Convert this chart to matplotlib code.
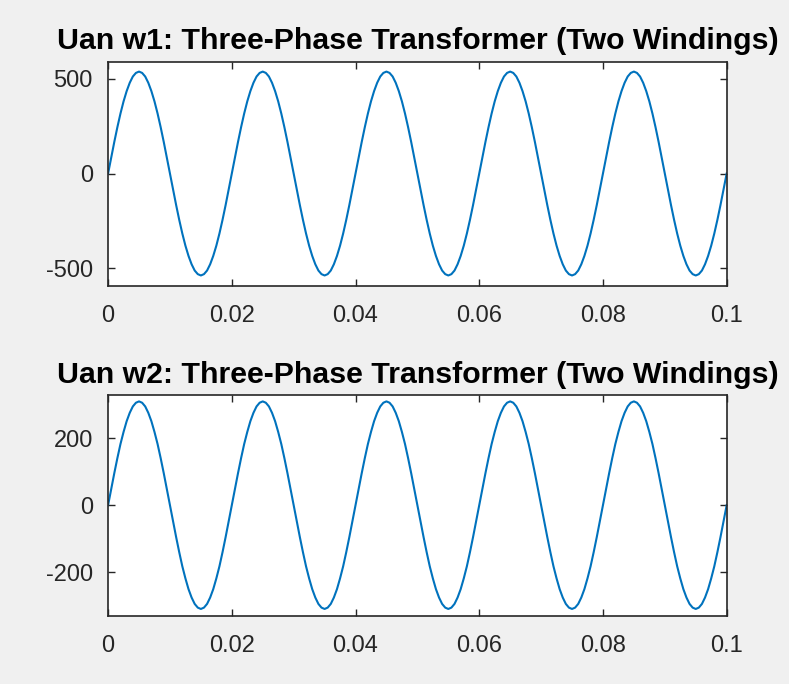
import matplotlib.pyplot as plt
from matplotlib.ticker import FuncFormatter

# sampled phase-to-neutral voltages, 0.5 ms step over 0..0.1 s
t = [i / 2000 for i in range(201)]

uan_w1 = [
    0, 84, 166, 244, 316, 380, 434, 478, 511, 530, 537, 530, 511, 478, 434, 380, 316, 244, 166, 84,
    0, -84, -166, -244, -316, -380, -434, -478, -511, -530, -537, -530, -511, -478, -434, -380, -316, -244, -166, -84,
    0, 84, 166, 244, 316, 380, 434, 478, 511, 530, 537, 530, 511, 478, 434, 380, 316, 244, 166, 84,
    0, -84, -166, -244, -316, -380, -434, -478, -511, -530, -537, -530, -511, -478, -434, -380, -316, -244, -166, -84,
    0, 84, 166, 244, 316, 380, 434, 478, 511, 530, 537, 530, 511, 478, 434, 380, 316, 244, 166, 84,
    0, -84, -166, -244, -316, -380, -434, -478, -511, -530, -537, -530, -511, -478, -434, -380, -316, -244, -166, -84,
    0, 84, 166, 244, 316, 380, 434, 478, 511, 530, 537, 530, 511, 478, 434, 380, 316, 244, 166, 84,
    0, -84, -166, -244, -316, -380, -434, -478, -511, -530, -537, -530, -511, -478, -434, -380, -316, -244, -166, -84,
    0, 84, 166, 244, 316, 380, 434, 478, 511, 530, 537, 530, 511, 478, 434, 380, 316, 244, 166, 84,
    0, -84, -166, -244, -316, -380, -434, -478, -511, -530, -537, -530, -511, -478, -434, -380, -316, -244, -166, -84,
    0,
]

uan_w2 = [
    0, 48, 95, 140, 182, 218, 250, 275, 294, 305, 309, 305, 294, 275, 250, 218, 182, 140, 95, 48,
    0, -48, -95, -140, -182, -218, -250, -275, -294, -305, -309, -305, -294, -275, -250, -218, -182, -140, -95, -48,
    0, 48, 95, 140, 182, 218, 250, 275, 294, 305, 309, 305, 294, 275, 250, 218, 182, 140, 95, 48,
    0, -48, -95, -140, -182, -218, -250, -275, -294, -305, -309, -305, -294, -275, -250, -218, -182, -140, -95, -48,
    0, 48, 95, 140, 182, 218, 250, 275, 294, 305, 309, 305, 294, 275, 250, 218, 182, 140, 95, 48,
    0, -48, -95, -140, -182, -218, -250, -275, -294, -305, -309, -305, -294, -275, -250, -218, -182, -140, -95, -48,
    0, 48, 95, 140, 182, 218, 250, 275, 294, 305, 309, 305, 294, 275, 250, 218, 182, 140, 95, 48,
    0, -48, -95, -140, -182, -218, -250, -275, -294, -305, -309, -305, -294, -275, -250, -218, -182, -140, -95, -48,
    0, 48, 95, 140, 182, 218, 250, 275, 294, 305, 309, 305, 294, 275, 250, 218, 182, 140, 95, 48,
    0, -48, -95, -140, -182, -218, -250, -275, -294, -305, -309, -305, -294, -275, -250, -218, -182, -140, -95, -48,
    0,
]

x_ticks = [0, 0.02, 0.04, 0.06, 0.08, 0.1]
y_ticks_w1 = [-500, 0, 500]
y_ticks_w2 = [-200, 0, 200]

plt.rcParams['font.family'] = ['Liberation Sans', 'DejaVu Sans']
plt.rcParams['axes.unicode_minus'] = False
fg = '#262626'

fig = plt.figure(figsize=(7.89, 6.84), dpi=100, facecolor='#f0f0f0')
ax1 = fig.add_axes([0.137, 0.582, 0.784, 0.3275])
ax2 = fig.add_axes([0.137, 0.0994, 0.784, 0.3231])

panels = [
    (ax1, uan_w1, y_ticks_w1, (-592, 588), 'Uan w1: Three-Phase Transformer (Two Windings)'),
    (ax2, uan_w2, y_ticks_w2, (-330, 328), 'Uan w2: Three-Phase Transformer (Two Windings)'),
]

for ax, u, yt, ylim, title in panels:
    ax.plot(t, u, color='#0072BD', lw=1.5)
    ax.set_xlim(0, 0.1)
    ax.set_ylim(*ylim)
    ax.set_xticks(x_ticks)
    ax.set_yticks(yt)
    ax.xaxis.set_major_formatter(FuncFormatter(lambda v, p: ('%g' % round(v, 3))))
    ax.tick_params(direction='in', top=True, right=True, length=5, width=1,
                   colors=fg, labelsize=17)
    ax.tick_params(axis='x', pad=14)
    ax.tick_params(axis='y', pad=11)
    for s in ax.spines.values():
        s.set_color(fg)
        s.set_linewidth(1.2)
    ax.set_title(title, fontsize=21.8, fontweight='bold', color='#000000', pad=9)

plt.savefig('out.png', dpi=100, facecolor=fig.get_facecolor())
